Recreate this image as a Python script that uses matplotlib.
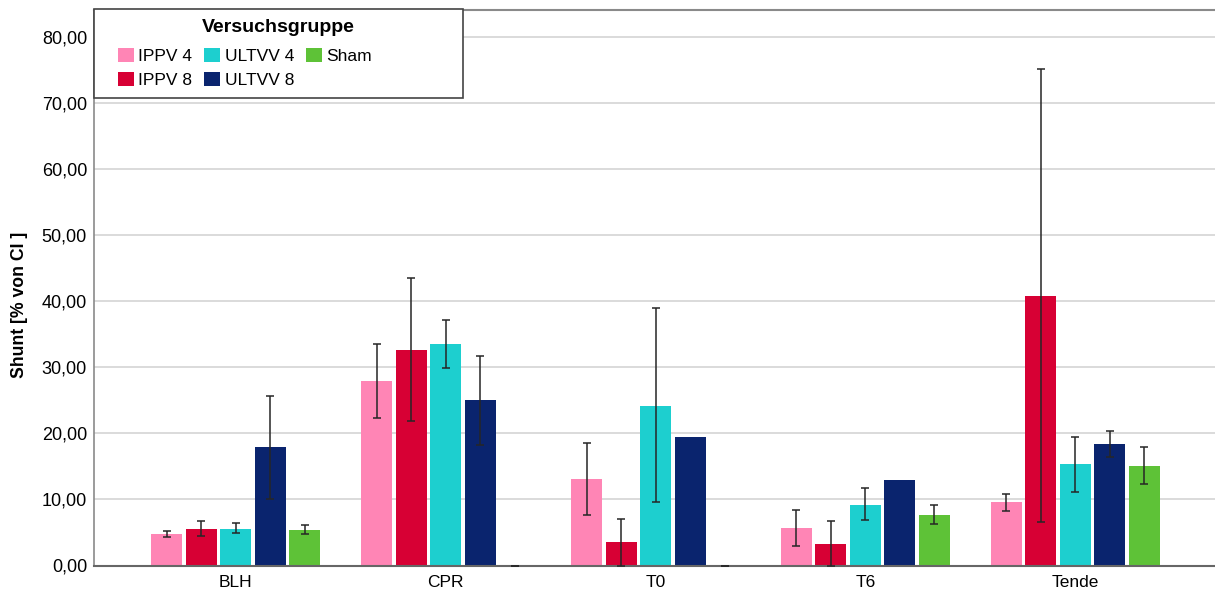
import numpy as np
import matplotlib
matplotlib.use("Agg")
import matplotlib.pyplot as plt
from matplotlib.patches import Rectangle, Patch
from matplotlib.ticker import FuncFormatter, MultipleLocator

plt.rcParams["font.family"] = ["Liberation Sans", "DejaVu Sans"]

# Shunt in % of cardiac index, mean with 95% CI per group and time point
groups = ["BLH", "CPR", "T0", "T6", "Tende"]
series = ["IPPV 4", "IPPV 8", "ULTVV 4", "ULTVV 8", "Sham"]
colors = ["#FF85B5", "#D70034", "#1DCFCF", "#0A246E", "#5EC237"]

ippv4 = [4.7, 27.9, 13.1, 5.7, 9.6]
ippv8 = [5.5, 32.6, 3.5, 3.3, 40.8]
ultvv4 = [5.6, 33.6, 24.2, 9.2, 15.3]
ultvv8 = [17.9, 25.0, 19.5, 12.9, 18.4]
sham = [5.4, 0.0, 0.0, 7.7, 15.1]

ippv4_lo = [4.3, 22.3, 7.6, 3.0, 8.3]
ippv4_hi = [5.2, 33.6, 18.6, 8.4, 10.8]
ippv8_lo = [4.4, 21.9, 0.0, 0.0, 6.6]
ippv8_hi = [6.7, 43.5, 7.1, 6.7, 75.2]
ultvv4_lo = [4.85, 29.9, 9.6, 6.9, 11.1]
ultvv4_hi = [6.45, 37.2, 39.0, 11.7, 19.4]
ultvv8_lo = [10.1, 18.3, np.nan, np.nan, 16.4]
ultvv8_hi = [25.7, 31.8, np.nan, np.nan, 20.4]
sham_lo = [4.75, 0.0, 0.0, 6.3, 12.3]
sham_hi = [6.1, 0.0, 0.0, 9.1, 17.9]

means = [ippv4, ippv8, ultvv4, ultvv8, sham]
lows = [ippv4_lo, ippv8_lo, ultvv4_lo, ultvv8_lo, sham_lo]
highs = [ippv4_hi, ippv8_hi, ultvv4_hi, ultvv8_hi, sham_hi]

fig = plt.figure(figsize=(12.15, 5.92), dpi=100)
ax = fig.add_axes([94 / 1215, 1 - 565.5 / 592, 1 - 94 / 1215, 556 / 592])

x = np.arange(len(groups))
step = 0.1645
width = 0.148
for k, (m, lo, hi) in enumerate(zip(means, lows, highs)):
    m = np.array(m)
    lo = np.array(lo)
    hi = np.array(hi)
    pos = x + (k - 2) * step
    ax.bar(pos, m, width, color=colors[k], zorder=2)
    ax.errorbar(pos, m, yerr=[m - lo, hi - m], fmt="none", ecolor="#262626",
                elinewidth=1.1, capsize=3, capthick=1.1, zorder=3)

ax.set_xlim(-0.676, 4.666)
ax.set_ylim(0, 84.2)
ax.set_xticks(x)
ax.set_xticklabels(groups, fontsize=12.5)
ax.tick_params(axis="x", length=0, pad=7)
ax.yaxis.set_major_locator(MultipleLocator(10))
ax.yaxis.set_major_formatter(FuncFormatter(lambda v, p: f"{v:.2f}".replace(".", ",")))
ax.tick_params(axis="y", labelsize=13, length=0, pad=5)
ax.grid(axis="y", color="#d4d4d4", linewidth=1.2, zorder=0)
ax.set_axisbelow(True)

ax.spines["right"].set_visible(False)
ax.spines["top"].set_color("#8a8a8a")
ax.spines["top"].set_linewidth(1.5)
ax.spines["left"].set_color("#8a8a8a")
ax.spines["left"].set_linewidth(1.2)
ax.spines["bottom"].set_color("#666666")
ax.spines["bottom"].set_linewidth(1.5)

ax.set_ylabel("Shunt [% von CI ]", fontsize=12.7, fontweight="bold")
ax.yaxis.set_label_coords(-66 / 1121, 1 - (305 - 9.5) / 556)

# legend box with its own title
box_w = 369 / 1121
box_h = 88 / 556
ax.add_patch(Rectangle((0, 1 - box_h), box_w, box_h, transform=ax.transAxes,
                       facecolor="white", edgecolor="#444444", linewidth=1.2,
                       zorder=5, clip_on=False))
ax.text(box_w / 2, 1 - 17.5 / 556, "Versuchsgruppe", transform=ax.transAxes,
        ha="center", va="center", fontsize=14, fontweight="bold", zorder=6)
handles = [Patch(facecolor=c, edgecolor="none") for c in colors]
leg = ax.legend(handles, series, loc="upper left", bbox_to_anchor=(24 / 1121, 1 - 39 / 556),
                ncol=3, frameon=False, fontsize=12.5, handlelength=0.92, handleheight=0.86,
                handletextpad=0.25, columnspacing=0.7, labelspacing=0.45, borderpad=0,
                borderaxespad=0)
leg.set_zorder(7)

fig.savefig("out.png", dpi=100)
